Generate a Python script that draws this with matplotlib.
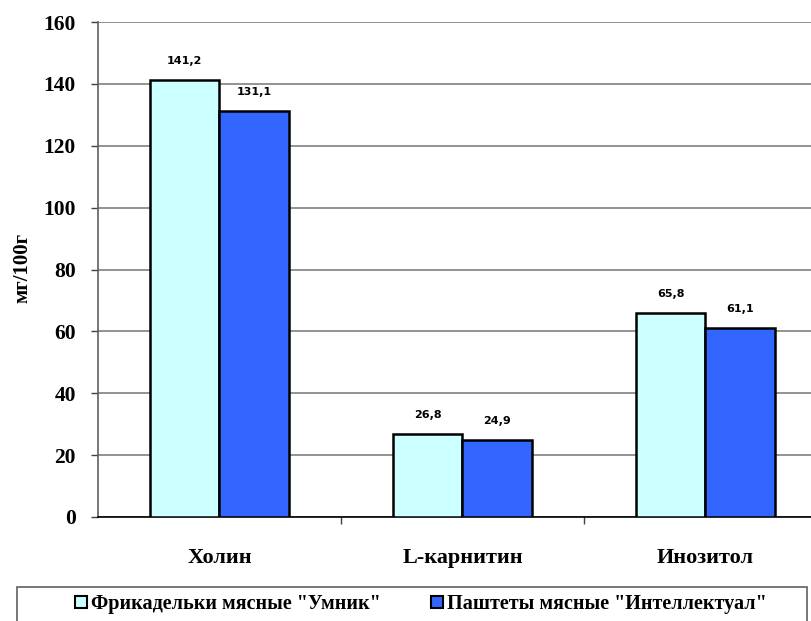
import numpy as np
import matplotlib.pyplot as plt
from matplotlib.patches import Patch, Rectangle

# данные
categories = ['Холин', 'L-карнитин', 'Инозитол']
series_names = ['Фрикадельки мясные "Умник"', 'Паштеты мясные "Интеллектуал"']
values_1 = [141.2, 26.8, 65.8]
values_2 = [131.1, 24.9, 61.1]
colors = ['#CCFFFF', '#3366FF']

serif = 'Liberation Serif'

fig = plt.figure(figsize=(8.12, 6.21), dpi=100)
ax = fig.add_axes([98 / 812, 104 / 621, 729 / 812, 495 / 621])

x = np.arange(len(categories))
w = 0.288
for i, (vals, col) in enumerate(zip([values_1, values_2], colors)):
    pos = x + (i - 0.5) * w
    ax.bar(pos, vals, width=w, color=col, edgecolor='black', linewidth=1.8, zorder=3)
    for px, v in zip(pos, vals):
        ax.annotate(f'{v:.1f}'.replace('.', ','), (px, v), xytext=(0, 14),
                    textcoords='offset points', ha='center', va='center',
                    fontsize=8, fontweight='bold', family='DejaVu Sans')

ax.set_xlim(-0.5, 2.5)
ax.set_ylim(0, 160)
ax.set_yticks(np.arange(0, 161, 20))
ax.yaxis.grid(True, color='#808080', linewidth=1.2, zorder=0)
ax.set_axisbelow(True)

for lab in ax.get_yticklabels():
    lab.set_family(serif)
    lab.set_fontweight('bold')
    lab.set_fontsize(15.5)
ax.tick_params(axis='y', length=5, width=1, pad=11, color='#404040')

ax.set_xticks(x)
ax.set_xticklabels(categories, family=serif, fontweight='bold', fontsize=16)
ax.set_xticks([0.5, 1.5], minor=True)
ax.tick_params(axis='x', which='major', length=0, pad=22)
ax.tick_params(axis='x', which='minor', length=5, width=1, color='#404040')

ax.spines['top'].set_visible(False)
ax.spines['right'].set_visible(False)
ax.spines['left'].set_color('#606060')
ax.spines['left'].set_linewidth(1.2)
ax.spines['bottom'].set_color('black')
ax.spines['bottom'].set_linewidth(1.2)

fig.text(22 / 812, 1 - 268 / 621, 'мг/100г', rotation=90, ha='center', va='center',
         family=serif, fontweight='bold', fontsize=15)

# легенда
fig.patches.append(Rectangle((17 / 812, -0.02), 790 / 812, 0.02 + 34 / 621,
                             transform=fig.transFigure, fill=False,
                             edgecolor='#606060', linewidth=1.2))
handles = [Patch(facecolor=c, edgecolor='black', linewidth=1.5) for c in colors]
fig.legend(handles, series_names, loc='center', bbox_to_anchor=(421 / 812, 1 - 604 / 621),
           ncol=2, frameon=False, handlelength=0.6, handleheight=0.6,
           handletextpad=0.2, columnspacing=2.5,
           prop={'family': serif, 'weight': 'bold', 'size': 14.5})

fig.savefig('out.png', dpi=100)
